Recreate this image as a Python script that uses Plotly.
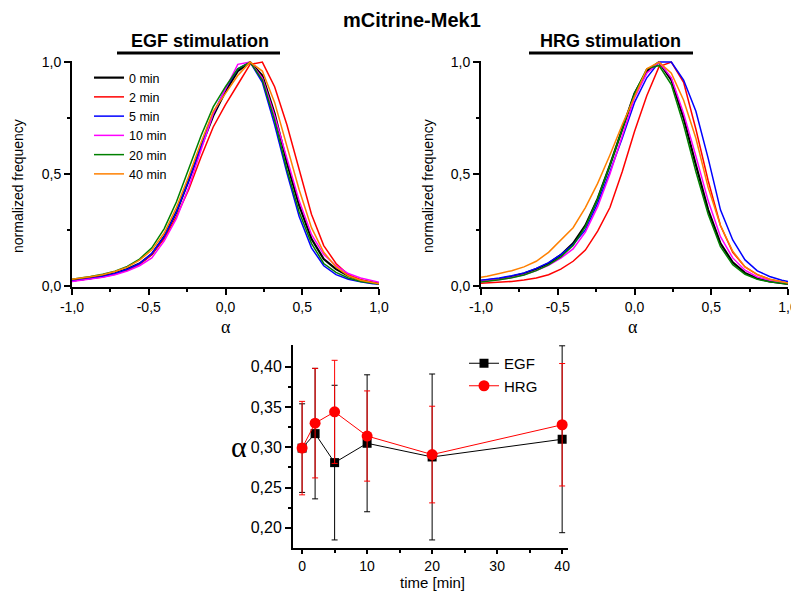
import plotly.graph_objects as go

# ---------------- data ----------------
alpha_bins = [-1.0, -0.96, -0.88, -0.80, -0.72, -0.64, -0.56, -0.48, -0.40, -0.32, -0.24, -0.16, -0.08,
              0.0, 0.08, 0.16, 0.24, 0.32, 0.40, 0.48, 0.56, 0.64, 0.72, 0.80, 0.88, 0.96, 1.0]

time_labels = ["0 min", "2 min", "5 min", "10 min", "20 min", "40 min"]
series_colors = ["#000000", "#FF0000", "#0000FF", "#FF00FF", "#008000", "#FF8000"]

egf_0 = [0.024, 0.027, 0.035, 0.044, 0.056, 0.075, 0.10, 0.142, 0.22, 0.33, 0.47, 0.62, 0.76,
         0.87, 0.96, 1.0, 0.94, 0.77, 0.55, 0.36, 0.21, 0.12, 0.075, 0.045, 0.025, 0.015, 0.01]
egf_2 = [0.022, 0.025, 0.032, 0.040, 0.052, 0.070, 0.095, 0.14, 0.21, 0.31, 0.43, 0.575, 0.71,
         0.81, 0.90, 0.99, 1.0, 0.89, 0.72, 0.52, 0.32, 0.18, 0.10, 0.05, 0.028, 0.014, 0.01]
egf_5 = [0.022, 0.025, 0.033, 0.042, 0.055, 0.074, 0.10, 0.145, 0.22, 0.33, 0.47, 0.62, 0.77,
         0.88, 0.97, 1.0, 0.91, 0.72, 0.505, 0.31, 0.17, 0.09, 0.05, 0.03, 0.018, 0.01, 0.008]
egf_10 = [0.02, 0.023, 0.03, 0.038, 0.05, 0.066, 0.09, 0.125, 0.20, 0.30, 0.44, 0.60, 0.77,
          0.88, 0.99, 1.0, 0.93, 0.76, 0.57, 0.38, 0.23, 0.14, 0.09, 0.055, 0.035, 0.022, 0.016]
egf_20 = [0.03, 0.033, 0.042, 0.052, 0.066, 0.087, 0.12, 0.17, 0.255, 0.375, 0.52, 0.67, 0.80,
          0.89, 0.97, 1.0, 0.92, 0.74, 0.52, 0.33, 0.19, 0.10, 0.06, 0.035, 0.02, 0.012, 0.008]
egf_40 = [0.03, 0.033, 0.041, 0.05, 0.064, 0.084, 0.115, 0.16, 0.235, 0.35, 0.49, 0.64, 0.78,
          0.86, 0.94, 1.0, 0.96, 0.82, 0.63, 0.43, 0.26, 0.15, 0.085, 0.045, 0.025, 0.013, 0.01]

hrg_0 = [0.022, 0.025, 0.032, 0.042, 0.055, 0.075, 0.10, 0.138, 0.19, 0.27, 0.39, 0.54, 0.70,
         0.86, 0.96, 1.0, 0.92, 0.75, 0.54, 0.34, 0.19, 0.105, 0.058, 0.033, 0.02, 0.012, 0.009]
hrg_2 = [0.012, 0.013, 0.016, 0.02, 0.026, 0.035, 0.05, 0.075, 0.11, 0.16, 0.245, 0.35, 0.51,
         0.69, 0.85, 0.98, 1.0, 0.91, 0.70, 0.47, 0.27, 0.15, 0.085, 0.05, 0.03, 0.018, 0.012]
hrg_5 = [0.025, 0.028, 0.035, 0.045, 0.058, 0.078, 0.104, 0.14, 0.185, 0.25, 0.37, 0.51, 0.66,
         0.82, 0.93, 1.0, 1.0, 0.92, 0.78, 0.57, 0.34, 0.205, 0.116, 0.067, 0.042, 0.025, 0.019]
hrg_10 = [0.02, 0.022, 0.028, 0.037, 0.05, 0.068, 0.092, 0.124, 0.165, 0.24, 0.354, 0.50, 0.67,
          0.84, 0.95, 1.0, 0.93, 0.77, 0.58, 0.38, 0.22, 0.125, 0.07, 0.04, 0.025, 0.015, 0.01]
hrg_20 = [0.017, 0.02, 0.027, 0.036, 0.049, 0.068, 0.094, 0.13, 0.18, 0.265, 0.39, 0.54, 0.70,
          0.86, 0.97, 0.985, 0.90, 0.72, 0.51, 0.32, 0.175, 0.095, 0.052, 0.03, 0.018, 0.01, 0.008]
hrg_40 = [0.039, 0.043, 0.055, 0.068, 0.085, 0.11, 0.15, 0.205, 0.26, 0.35, 0.458, 0.585, 0.72,
          0.845, 0.97, 1.0, 0.95, 0.83, 0.66, 0.44, 0.27, 0.155, 0.085, 0.05, 0.03, 0.018, 0.013]

egf_series = [egf_0, egf_2, egf_5, egf_10, egf_20, egf_40]
hrg_series = [hrg_0, hrg_2, hrg_5, hrg_10, hrg_20, hrg_40]

time_min = [0, 2, 5, 10, 20, 40]
egf_alpha = [0.299, 0.317, 0.281, 0.305, 0.288, 0.310]
egf_err = [0.055, 0.081, 0.096, 0.085, 0.103, 0.116]
hrg_alpha = [0.299, 0.330, 0.344, 0.314, 0.291, 0.328]
hrg_err = [0.058, 0.068, 0.064, 0.056, 0.060, 0.076]

hist_x_ticks = [-1.0, -0.5, 0.0, 0.5, 1.0]
hist_x_ticktext = ["-1,0", "-0,5", "0,0", "0,5", "1,0"]
hist_y_ticks = [0.0, 0.5, 1.0]
hist_y_ticktext = ["0,0", "0,5", "1,0"]
time_ticks = [0, 10, 20, 30, 40]
time_ticktext = ["0", "10", "20", "30", "40"]
alpha_ticks = [0.20, 0.25, 0.30, 0.35, 0.40]
alpha_ticktext = ["0,20", "0,25", "0,30", "0,35", "0,40"]

# ---------------- figure ----------------
# the page body has an 8px default margin: the figure starts at screen (8, 8)
OFF = 8
W, H = 799 - OFF, 592 - OFF
SANS = "Liberation Sans, Arial, sans-serif"
SERIF = "Liberation Serif, Times New Roman, serif"


def px_x(p):
    return (p - OFF) / W


def px_y(p):
    return 1 - (p - OFF) / H


fig = go.Figure()

for i, (ys, name, col) in enumerate(zip(egf_series, time_labels, series_colors)):
    fig.add_trace(go.Scatter(x=alpha_bins, y=ys, mode="lines", name=name,
                             line=dict(color=col, width=2.2 if i == 0 else 1.5),
                             xaxis="x", yaxis="y", legend="legend"))
for i, (ys, name, col) in enumerate(zip(hrg_series, time_labels, series_colors)):
    fig.add_trace(go.Scatter(x=alpha_bins, y=ys, mode="lines", name=name, showlegend=False,
                             line=dict(color=col, width=2.2 if i == 0 else 1.5),
                             xaxis="x2", yaxis="y2"))

fig.add_trace(go.Scatter(x=time_min, y=egf_alpha, mode="lines+markers", name="EGF",
                         line=dict(color="black", width=1),
                         marker=dict(symbol="square", size=9, color="black"),
                         error_y=dict(type="data", array=egf_err, color="black", thickness=1, width=3),
                         xaxis="x3", yaxis="y3", legend="legend2"))
fig.add_trace(go.Scatter(x=time_min, y=hrg_alpha, mode="lines+markers", name="HRG",
                         line=dict(color="red", width=1),
                         marker=dict(symbol="circle", size=11, color="red"),
                         error_y=dict(type="data", array=hrg_err, color="red", thickness=1, width=3),
                         xaxis="x3", yaxis="y3", legend="legend2"))

base_axis = dict(showline=True, linewidth=2, linecolor="black", ticks="outside", ticklen=6,
                 tickwidth=2, tickcolor="black", showgrid=False, zeroline=False, automargin=False,
                 tickfont=dict(family=SANS, size=14, color="black"), fixedrange=True)


def axis(**kw):
    d = dict(base_axis)
    d.update(kw)
    return d


hist_minor_x = dict(tickmode="array", tickvals=[-0.75, -0.25, 0.25, 0.75], ticks="outside",
                    ticklen=3, tickwidth=1.5, tickcolor="black")
hist_minor_y = dict(tickmode="array", tickvals=[0.25, 0.75], ticks="outside",
                    ticklen=3, tickwidth=1.5, tickcolor="black")

top_dom_y = [px_y(287), px_y(61)]

fig.update_layout(
    template="none",
    width=W, height=H,
    margin=dict(l=0, r=0, t=0, b=0, pad=0),
    paper_bgcolor="white", plot_bgcolor="white",
    font=dict(family=SANS, color="black"),
    xaxis=axis(domain=[px_x(72), px_x(379)], range=[-1, 1], tickmode="array",
               tickvals=hist_x_ticks, ticktext=hist_x_ticktext, anchor="y", minor=hist_minor_x),
    yaxis=axis(domain=top_dom_y, range=[-0.005, 1.005], tickmode="array",
               tickvals=hist_y_ticks, ticktext=hist_y_ticktext, anchor="x", minor=hist_minor_y),
    xaxis2=axis(domain=[px_x(481), px_x(788)], range=[-1, 1], tickmode="array",
                tickvals=hist_x_ticks, ticktext=hist_x_ticktext, anchor="y2", minor=hist_minor_x),
    yaxis2=axis(domain=top_dom_y, range=[-0.005, 1.005], tickmode="array",
                tickvals=hist_y_ticks, ticktext=hist_y_ticktext, anchor="x2", minor=hist_minor_y),
    xaxis3=axis(domain=[px_x(293), px_x(568)], range=[-1.4, 40.9], tickmode="array",
                tickvals=time_ticks, ticktext=time_ticktext, anchor="y3", ticklen=4,
                tickfont=dict(family=SANS, size=14, color="black"),
                minor=dict(tickmode="array", tickvals=[5, 15, 25, 35], ticks="outside",
                           ticklen=3, tickwidth=1.5, tickcolor="black")),
    yaxis3=axis(domain=[px_y(548), px_y(345)], range=[0.175, 0.427], tickmode="array",
                tickvals=alpha_ticks, ticktext=alpha_ticktext, anchor="x3",
                tickfont=dict(family=SANS, size=16, color="black"),
                minor=dict(tickmode="array", tickvals=[0.225, 0.275, 0.325, 0.375], ticks="outside",
                           ticklen=3, tickwidth=1.5, tickcolor="black")),
    legend=dict(x=px_x(89), y=px_y(63), xanchor="left", yanchor="top",
                bgcolor="rgba(0,0,0,0)", font=dict(family=SANS, size=12.5, color="black"),
                tracegroupgap=0, itemwidth=30),
    legend2=dict(x=px_x(464), y=px_y(347), xanchor="left", yanchor="top",
                 bgcolor="rgba(0,0,0,0)", font=dict(family=SANS, size=15, color="black"),
                 tracegroupgap=0, itemwidth=30),
    showlegend=True,
)

annotations = [
    dict(text="<b>mCitrine-Mek1</b>", x=px_x(412), y=px_y(20), font=dict(size=20)),
    dict(text="<b>EGF stimulation</b>", x=px_x(200), y=px_y(41), font=dict(size=18)),
    dict(text="<b>HRG stimulation</b>", x=px_x(610), y=px_y(41), font=dict(size=18)),
    dict(text="normalized frequency", x=px_x(18), y=px_y(186), textangle=-90, font=dict(size=14)),
    dict(text="normalized frequency", x=px_x(428), y=px_y(186), textangle=-90, font=dict(size=14)),
    dict(text="α", x=px_x(226), y=px_y(327), font=dict(family=SERIF, size=18)),
    dict(text="α", x=px_x(633), y=px_y(327), font=dict(family=SERIF, size=18)),
    dict(text="α", x=px_x(239), y=px_y(446), font=dict(family=SERIF, size=30)),
    dict(text="time [min]", x=px_x(432), y=px_y(582), font=dict(size=15)),
]
for a in annotations:
    a.update(xref="paper", yref="paper", showarrow=False, xanchor="center", yanchor="middle")
    a["font"] = dict(family=a["font"].get("family", SANS), size=a["font"]["size"], color="black")
fig.update_layout(annotations=annotations)

fig.update_layout(shapes=[
    dict(type="line", xref="paper", yref="paper", x0=px_x(117), x1=px_x(280), y0=px_y(53), y1=px_y(53),
         line=dict(color="black", width=3)),
    dict(type="line", xref="paper", yref="paper", x0=px_x(529), x1=px_x(693), y0=px_y(53), y1=px_y(53),
         line=dict(color="black", width=3)),
])

fig.write_html("out.html")
